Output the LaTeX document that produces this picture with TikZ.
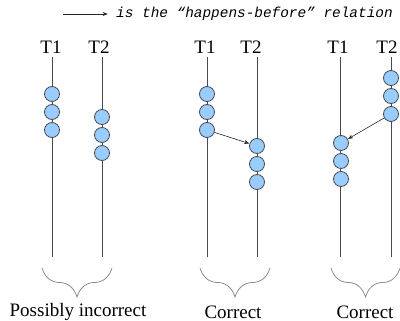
\documentclass[tikz,border=0pt]{standalone}
\usepackage{fontspec}
\setmainfont{Liberation Serif}
\setmonofont{Liberation Mono}
\usetikzlibrary{decorations.pathreplacing,arrows.meta}
\definecolor{evblue}{HTML}{99CCFF}
\definecolor{evline}{HTML}{4A4A4A}
\begin{document}
\begin{tikzpicture}[x=1pt,y=-1pt,
  ev/.style={circle,draw=evline,fill=evblue,minimum size=15pt,inner sep=0pt,line width=0.8pt},
  thread/.style={draw=evline,line width=0.8pt},
  hb/.style={-{Stealth[length=5pt,width=4pt]},line width=0.6pt,draw=black!85,shorten >=0.3pt},
  tlbl/.style={font=\fontsize{19}{21}\selectfont,inner sep=0pt},
  blbl/.style={font=\fontsize{19}{21}\selectfont,inner sep=0pt},
  br/.style={decorate,decoration={brace,amplitude=29pt},draw=black!45,line width=0.8pt}]
\useasboundingbox (0,0) rectangle (400,321);

% legend
\coordinate (la) at (63,14);
\coordinate (lb) at (108,14);
\draw[hb] (la) -- (lb);
\node[anchor=west,inner sep=0pt,font=\fontsize{14.4}{16}\selectfont\ttfamily\itshape] (legend) at (116,14) {is the “happens-before” relation};

% thread labels
\node[tlbl] (aT1) at (51,47) {T1};
\node[tlbl] (aT2) at (99,47) {T2};
\node[tlbl] (bT1) at (205,47) {T1};
\node[tlbl] (bT2) at (251,47) {T2};
\node[tlbl] (cT1) at (338,47) {T1};
\node[tlbl] (cT2) at (387,47) {T2};

% thread lines
\foreach \n/\x in {a1/52,a2/102,b1/207,b2/257,c1/340,c2/391}{
  \coordinate (\n top) at (\x,57);
  \coordinate (\n bot) at (\x,257);
  \draw[thread] (\n top) -- (\n bot);
}

% events: possibly incorrect
\node[ev] (a11) at (52,94) {};
\node[ev] (a12) at (52,112) {};
\node[ev] (a13) at (52,130) {};
\node[ev] (a21) at (102,117) {};
\node[ev] (a22) at (102,135) {};
\node[ev] (a23) at (102,153) {};

% events: correct (middle)
\node[ev] (b11) at (207,94) {};
\node[ev] (b12) at (207,112) {};
\node[ev] (b13) at (207,130) {};
\node[ev] (b21) at (257,146) {};
\node[ev] (b22) at (257,164) {};
\node[ev] (b23) at (257,182) {};
\draw[hb] (b13) -- (b21);

% events: correct (right)
\node[ev] (c21) at (391,78) {};
\node[ev] (c22) at (391,96) {};
\node[ev] (c23) at (391,114) {};
\node[ev] (c11) at (341,143) {};
\node[ev] (c12) at (341,161) {};
\node[ev] (c13) at (341,179) {};
\draw[hb] (c23) -- (c11);

% braces
\coordinate (abl) at (42,268);  \coordinate (abr) at (112,268);
\coordinate (bbl) at (200,268); \coordinate (bbr) at (270,268);
\coordinate (cbl) at (331,268); \coordinate (cbr) at (400,268);
\draw[br] (abr) -- (abl);
\draw[br] (bbr) -- (bbl);
\draw[br] (cbr) -- (cbl);

% captions
\node[blbl] (acap) at (78,312) {Possibly incorrect};
\node[blbl] (bcap) at (233,312) {Correct};
\node[blbl] (ccap) at (365,312) {Correct};
\end{tikzpicture}
\end{document}
